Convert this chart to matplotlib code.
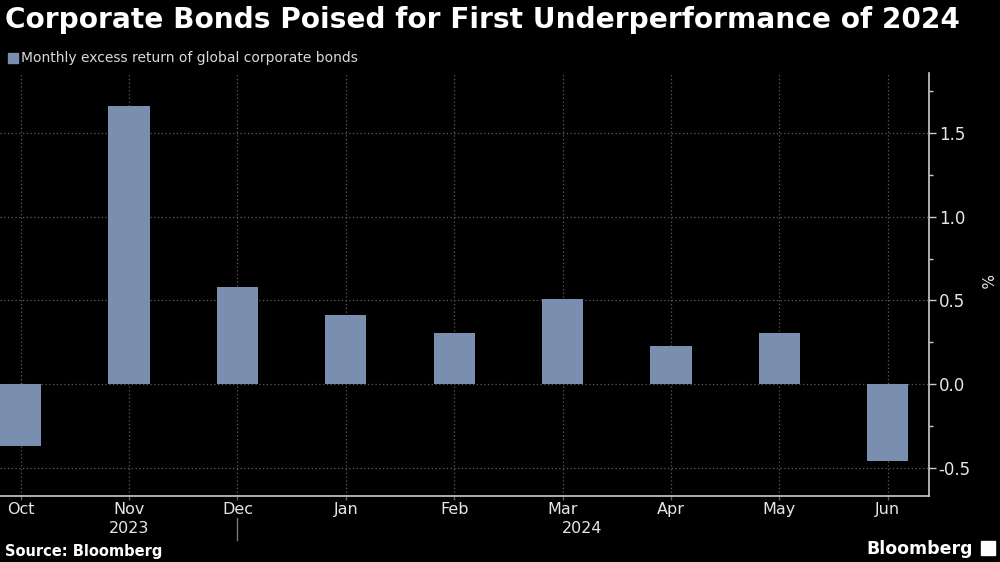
import numpy as np
import matplotlib.pyplot as plt
from matplotlib.ticker import MultipleLocator

# data
months = ["Oct", "Nov", "Dec", "Jan", "Feb", "Mar", "Apr", "May", "Jun"]
excess_return = [-0.37, 1.66, 0.58, 0.41, 0.305, 0.51, 0.23, 0.305, -0.46]
years = ["2023", "2024"]
year_pos = [1, 5.18]

bar_color = "#7a8fb0"
grid_color = "#5e5e5e"
text_color = "#e6e6e6"

fig = plt.figure(figsize=(10, 5.62), dpi=100, facecolor="black")
ax = fig.add_axes([0.0, 0.1174, 0.929, 0.7526], facecolor="black")

x = np.arange(len(months))
ax.bar(x, excess_return, width=0.38, color=bar_color, zorder=3)

ax.set_xlim(-0.19, 8.38)
ax.set_ylim(-0.67, 1.86)

# y axis on the right
ax.yaxis.tick_right()
ax.yaxis.set_minor_locator(MultipleLocator(0.25))
ax.set_yticks([-0.5, 0.0, 0.5, 1.0, 1.5])
ax.set_yticklabels(["-0.5", "0.0", "0.5", "1.0", "1.5"])
ax.tick_params(axis="y", which="major", length=5, width=1, color="#cccccc",
               labelcolor=text_color, labelsize=12, pad=2)
ax.tick_params(axis="y", which="minor", length=3, width=1, color="#cccccc")

ax.set_xticks(x)
ax.set_xticklabels(months)
ax.tick_params(axis="x", length=3, width=1, color=grid_color,
               labelcolor=text_color, labelsize=11.5, pad=1)

ax.grid(True, which="major", color=grid_color, linestyle=(0, (1, 2)), linewidth=0.9, zorder=0)

for s in ["top", "left"]:
    ax.spines[s].set_visible(False)
for s in ["bottom", "right"]:
    ax.spines[s].set_color("#cccccc")
    ax.spines[s].set_linewidth(1.2)

# year labels and separator
for yr, p in zip(years, year_pos):
    ax.text(p, -0.076, yr, transform=ax.get_xaxis_transform(), ha="center", va="center",
            color=text_color, fontsize=11.5)
ax.plot([2, 2], [-0.052, -0.104], transform=ax.get_xaxis_transform(), color="#777777",
        linewidth=1, clip_on=False)

# percent label
fig.text(0.985, 0.5, "%", rotation=270, color=text_color, fontsize=11,
         ha="center", va="center")

# title and legend
fig.text(0.005, 0.964, "Corporate Bonds Poised for First Underperformance of 2024",
         color="white", fontsize=20.2, fontweight="bold", ha="left", va="center")
fig.patches.append(plt.Rectangle((0.008, 0.888), 0.010, 0.018, transform=fig.transFigure,
                                 color=bar_color))
fig.text(0.021, 0.897, "Monthly excess return of global corporate bonds",
         color="#d9d9d9", fontsize=10, ha="left", va="center")

# footer
fig.text(0.005, 0.019, "Source: Bloomberg", color="white", fontsize=10.5,
         fontweight="bold", ha="left", va="center")
fig.text(0.973, 0.023, "Bloomberg", color="white", fontsize=12.5,
         fontweight="bold", ha="right", va="center")
fig.patches.append(plt.Rectangle((0.981, 0.012), 0.014, 0.026, transform=fig.transFigure,
                                 color="white"))

fig.savefig("out.png", dpi=100, facecolor="black")
